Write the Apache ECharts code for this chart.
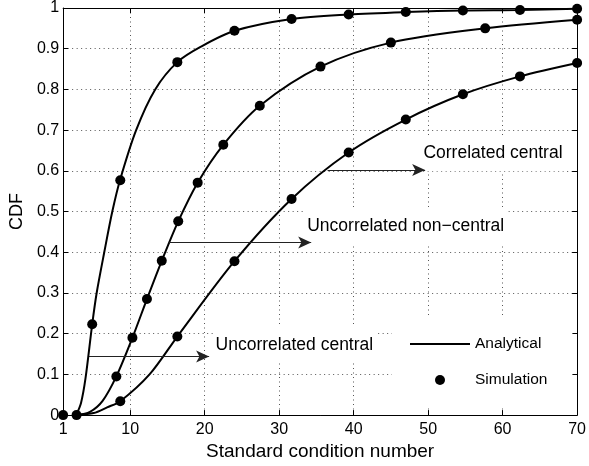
<!DOCTYPE html>
<html>
<head>
<meta charset="utf-8">
<script src="https://cdn.jsdelivr.net/npm/echarts@6/dist/echarts.min.js"></script>
<style>html,body{margin:0;padding:0;background:#fff}#c{width:589px;height:466px}</style>
</head>
<body>
<div id="c"></div>
<script>
// ---- data ----
const xTicks = [1, 10, 20, 30, 40, 50, 60, 70];
const yTicks = [0, 0.1, 0.2, 0.3, 0.4, 0.5, 0.6, 0.7, 0.8, 0.9, 1];
const xName = 'Standard condition number';
const yName = 'CDF';
const labelUncCentral = 'Uncorrelated central';
const labelUncNonCentral = 'Uncorrelated non\u2212central';
const labelCorrCentral = 'Correlated central';

// Uncorrelated central (leftmost curve)
const uncCentralLineX = [2.75, 3.4, 4.0, 4.9, 5.5, 6.52, 7.6, 8.63, 10.8, 13.36, 16.33, 19.5, 24, 31.67, 39.33, 47, 54.67, 62.33, 70];
const uncCentralLineY = [0, 0.03, 0.09, 0.223, 0.3, 0.4, 0.5, 0.577, 0.7, 0.8, 0.867, 0.905, 0.944, 0.973, 0.984, 0.990, 0.994, 0.995, 0.998];
const uncCentralSimX = [1, 2.8, 4.9, 8.67, 16.33, 24, 31.67, 39.33, 47, 54.67, 62.33, 70];
const uncCentralSimY = [0, 0, 0.223, 0.577, 0.867, 0.944, 0.973, 0.984, 0.990, 0.994, 0.995, 0.998];

// Uncorrelated non-central (middle curve)
const uncNonLineX = [2.8, 4.6, 6.3, 8.14, 10.3, 12.25, 14.24, 16.45, 19.06, 22.5, 27.4, 35.55, 45.0, 57.66, 70];
const uncNonLineY = [0, 0.008, 0.035, 0.095, 0.19, 0.285, 0.379, 0.476, 0.571, 0.664, 0.76, 0.856, 0.915, 0.95, 0.971];
const uncNonSimX = [8.14, 10.3, 12.25, 14.24, 16.45, 19.06, 22.5, 27.4, 35.55, 45.0, 57.66, 70];
const uncNonSimY = [0.095, 0.19, 0.285, 0.379, 0.476, 0.571, 0.664, 0.76, 0.856, 0.915, 0.95, 0.971];

// Correlated central (rightmost curve)
const corrLineX = [2.8, 5.1, 6.9, 8.67, 12.6, 16.33, 24, 31.67, 39.33, 47, 54.67, 62.33, 70];
const corrLineY = [0, 0.005, 0.019, 0.034, 0.1, 0.193, 0.378, 0.531, 0.645, 0.726, 0.788, 0.832, 0.865];
const corrSimX = [8.67, 16.33, 24, 31.67, 39.33, 47, 54.67, 62.33, 70];
const corrSimY = [0.034, 0.193, 0.378, 0.531, 0.645, 0.726, 0.788, 0.832, 0.865];

// annotation arrows [x0, x1, y] and label anchors [x, y]
const arrowUncCentral = [4.47, 20.6, 0.144];
const arrowUncNon = [15.08, 34.3, 0.424];
const arrowCorr = [36.5, 49.6, 0.602];
const textUncCentral = [21.2, 0.172];
const textUncNon = [33.5, 0.463];
const textCorr = [49.1, 0.643];

// ---- chart ----
const FONT = "'Liberation Sans', Arial, Helvetica, sans-serif";
const zip = (xs, ys) => xs.map((x, i) => [x, ys[i]]);

function arrowMark(a) {
  return {
    silent: true,
    z: 10,
    symbol: ['none', 'arrow'],
    symbolSize: [9, 13],
    label: { show: false },
    lineStyle: { color: '#222', width: 1, type: 'solid', opacity: 1 },
    itemStyle: { color: '#000' },
    emphasis: { disabled: true },
    animation: false,
    data: [[{ coord: [a[0], a[2]] }, { coord: [a[1], a[2]] }]]
  };
}
function textMark(t, text) {
  return {
    silent: true,
    z: 5,
    symbol: 'rect',
    symbolSize: 0,
    animation: false,
    label: {
      show: true, position: 'right', distance: 0, formatter: text,
      color: '#000', fontSize: 17.5, fontFamily: FONT,
      backgroundColor: '#fff', padding: [9, 2]
    },
    data: [{ coord: t }]
  };
}
function lineSeries(xs, ys, arrow, txt, text) {
  return {
    name: 'Analytical', type: 'line', data: zip(xs, ys),
    showSymbol: false, symbol: 'none', smooth: 0.3,
    lineStyle: { color: '#000', width: 2 }, itemStyle: { color: '#000' },
    emphasis: { disabled: true },
    z: 3, markLine: arrowMark(arrow), markPoint: textMark(txt, text)
  };
}
function simSeries(xs, ys) {
  return {
    name: 'Simulation', type: 'scatter', data: zip(xs, ys),
    symbol: 'circle', symbolSize: 10, itemStyle: { color: '#000', opacity: 1 },
    emphasis: { disabled: true }, z: 4
  };
}

const gridLine = { show: true, lineStyle: { color: '#555', width: 1, type: [1, 3.5] } };
const chart = echarts.init(document.getElementById('c'), null, { renderer: 'canvas' });
chart.setOption({
  animation: false,
  backgroundColor: '#fff',
  textStyle: { fontFamily: FONT },
  grid: { left: 60, right: 8, top: 7, bottom: 48, containLabel: false },
  legend: {
    orient: 'vertical', left: 392, top: 318,
    padding: [18, 25, 17, 18], itemGap: 20,
    itemWidth: 60, itemHeight: 10,
    backgroundColor: '#fff', selectedMode: false,
    textStyle: { color: '#000', fontSize: 15.5, fontFamily: FONT },
    data: [
      { name: 'Analytical', icon: 'path://M0,0L60,0L60,1.8L0,1.8Z' },
      { name: 'Simulation', icon: 'circle', itemStyle: { opacity: 1 } }
    ]
  },
  xAxis: [{
    type: 'value', min: xTicks[0], max: xTicks[xTicks.length - 1],
    name: xName, nameLocation: 'middle', nameGap: 25,
    nameTextStyle: { color: '#000', fontSize: 19, fontFamily: FONT },
    axisLine: { show: true, onZero: false, lineStyle: { color: '#000', width: 1 } },
    axisTick: { show: true, inside: true, length: 5, customValues: xTicks, lineStyle: { color: '#000' } },
    axisLabel: { show: true, customValues: xTicks, color: '#000', fontSize: 16, margin: 6, fontFamily: FONT },
    splitLine: gridLine
  }, {
    type: 'value', position: 'top', min: xTicks[0], max: xTicks[xTicks.length - 1],
    axisLine: { show: true, onZero: false, lineStyle: { color: '#000', width: 1 } },
    axisTick: { show: true, inside: true, length: 5, customValues: xTicks, lineStyle: { color: '#000' } },
    axisLabel: { show: false }, splitLine: { show: false }
  }],
  yAxis: [{
    type: 'value', min: 0, max: 1, interval: 0.1,
    name: yName, nameLocation: 'middle', nameGap: 36,
    nameTextStyle: { color: '#000', fontSize: 18, fontFamily: FONT },
    axisLine: { show: true, onZero: false, lineStyle: { color: '#000', width: 1 } },
    axisTick: { show: true, inside: true, length: 5, lineStyle: { color: '#000' } },
    axisLabel: { show: true, color: '#000', fontSize: 16, margin: 4, fontFamily: FONT,
      formatter: v => String(+v.toFixed(1)) },
    splitLine: gridLine
  }, {
    type: 'value', position: 'right', min: 0, max: 1, interval: 0.1,
    axisLine: { show: true, onZero: false, lineStyle: { color: '#000', width: 1 } },
    axisTick: { show: true, inside: true, length: 5, lineStyle: { color: '#000' } },
    axisLabel: { show: false }, splitLine: { show: false }
  }],
  series: [
    lineSeries(uncCentralLineX, uncCentralLineY, arrowUncCentral, textUncCentral, labelUncCentral),
    lineSeries(uncNonLineX, uncNonLineY, arrowUncNon, textUncNon, labelUncNonCentral),
    lineSeries(corrLineX, corrLineY, arrowCorr, textCorr, labelCorrCentral),
    simSeries(uncCentralSimX, uncCentralSimY),
    simSeries(uncNonSimX, uncNonSimY),
    simSeries(corrSimX, corrSimY)
  ]
});
</script>
</body>
</html>
